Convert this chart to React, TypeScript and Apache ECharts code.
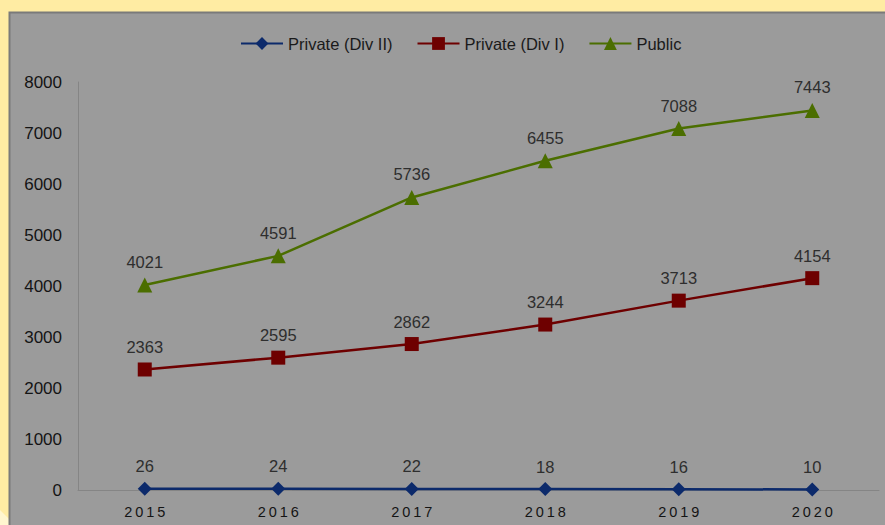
import React, { useEffect, useRef } from "react";
import * as echarts from "echarts";

const years = ["2015", "2016", "2017", "2018", "2019", "2020"];
const privateDiv2 = [26, 24, 22, 18, 16, 10];
const privateDiv1 = [2363, 2595, 2862, 3244, 3713, 4154];
const publicSchools = [4021, 4591, 5736, 6455, 7088, 7443];

const FONT = "'Liberation Sans', 'DejaVu Sans', sans-serif";

export default function App() {
  const ref = useRef<HTMLDivElement>(null);

  useEffect(() => {
    document.body.style.margin = "0";
    if (!ref.current) return;
    const chart = echarts.init(ref.current, undefined, { renderer: "svg" });

    const labelStyle = {
      show: true,
      position: "top" as const,
      distance: 7,
      fontSize: 16.5,
      color: "#2E2E2E",
      fontFamily: FONT,
    };

    chart.setOption({
      animation: false,
      backgroundColor: "#FFECA3",
      textStyle: { fontFamily: FONT },
      graphic: [
        {
          type: "polygon",
          z: -20,
          shape: { points: [[0, 510], [12, 522], [12, 525], [0, 525]] },
          style: { fill: "#FFF6CF" },
        },
        {
          type: "rect",
          z: -10,
          shape: { x: 9.5, y: 12.5, width: 900, height: 540 },
          style: { fill: "#9B9B9B", stroke: "#7A7A7A", lineWidth: 2 },
        },
      ],
      legend: {
        top: 30,
        left: 235,
        itemWidth: 42,
        itemHeight: 16,
        itemGap: 24,
        textStyle: { fontSize: 16.5, color: "#1A1A1A", fontFamily: FONT },
        data: ["Private (Div II)", "Private (Div I)", "Public"],
      },
      grid: { left: 78, right: 6, top: 82, bottom: 35 },
      xAxis: {
        type: "category",
        data: years,
        boundaryGap: true,
        axisLine: { lineStyle: { color: "#858585", width: 1 } },
        axisTick: { show: false },
        axisLabel: {
          fontSize: 14.5,
          color: "#141414",
          margin: 14,
          formatter: (v: string) => v.split("").join("\u2009"),
        },
      },
      yAxis: {
        type: "value",
        min: 0,
        max: 8000,
        interval: 1000,
        axisLine: { show: true, lineStyle: { color: "#858585", width: 1 } },
        axisTick: { show: false },
        splitLine: { show: false },
        axisLabel: {
          fontSize: 17,
          color: "#141414",
          margin: 16,
          formatter: (v: number) => String(v),
        },
      },
      series: [
        {
          name: "Private (Div II)",
          type: "line",
          data: privateDiv2,
          symbol: "diamond",
          symbolSize: 14,
          lineStyle: { width: 2.5, color: "#0C2A6B" },
          itemStyle: { color: "#0C2A6B" },
          label: labelStyle,
        },
        {
          name: "Private (Div I)",
          type: "line",
          data: privateDiv1,
          symbol: "rect",
          symbolSize: 14,
          lineStyle: { width: 2.5, color: "#6E0000" },
          itemStyle: { color: "#6E0000" },
          label: labelStyle,
        },
        {
          name: "Public",
          type: "line",
          data: publicSchools,
          symbol: "triangle",
          symbolSize: 15,
          lineStyle: { width: 2.5, color: "#4B6E00" },
          itemStyle: { color: "#4B6E00" },
          label: labelStyle,
        },
      ],
    });

    return () => chart.dispose();
  }, []);

  return <div ref={ref} style={{ width: 885, height: 525 }} />;
}
